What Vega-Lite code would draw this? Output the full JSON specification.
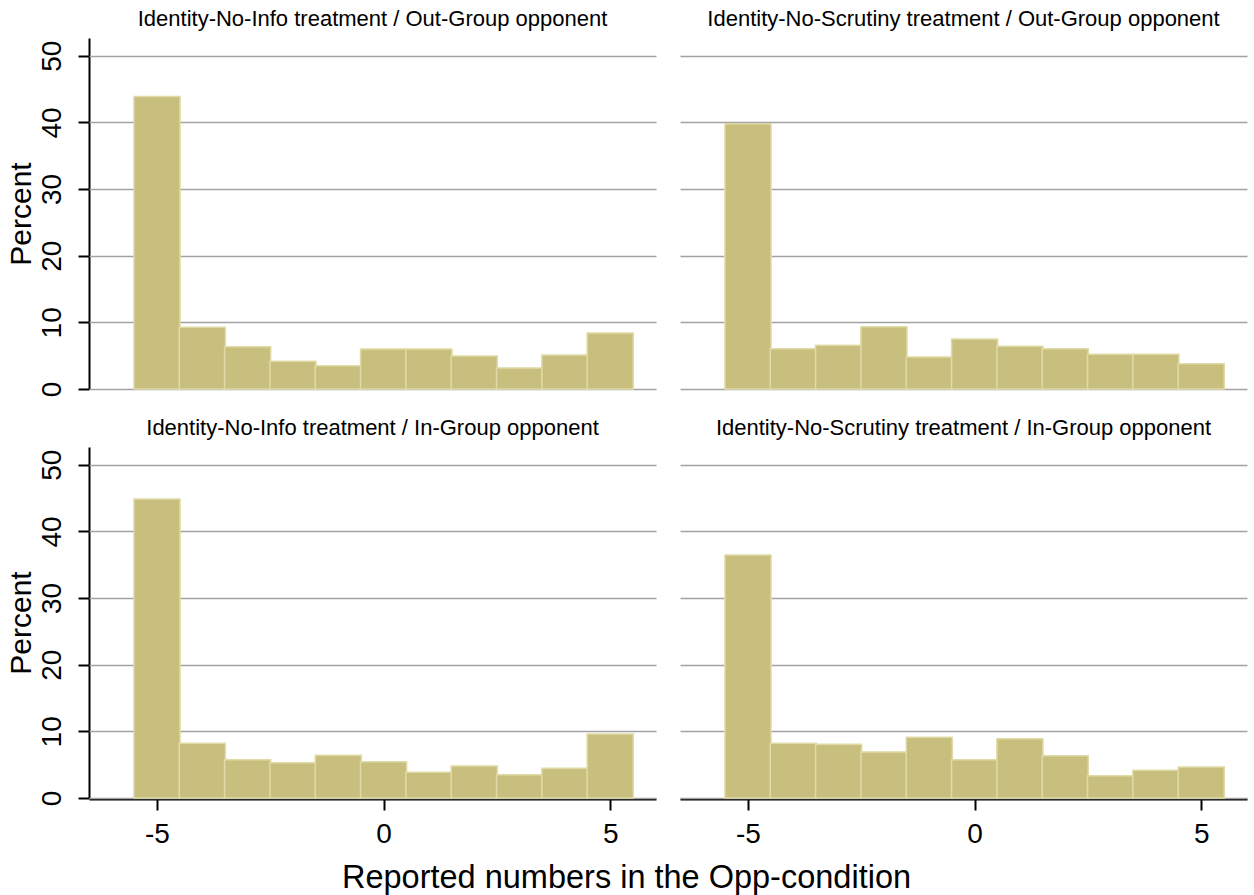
{
  "$schema": "https://vega.github.io/schema/vega-lite/v6.json",
  "background": "white",
  "padding": {"left": 6, "top": 8, "right": 5, "bottom": 5},
  "data": {"values": [
    {"panel": "Identity-No-Info treatment / Out-Group opponent", "value": -5, "pct": 43.9},
    {"panel": "Identity-No-Info treatment / Out-Group opponent", "value": -4, "pct": 9.25},
    {"panel": "Identity-No-Info treatment / Out-Group opponent", "value": -3, "pct": 6.35},
    {"panel": "Identity-No-Info treatment / Out-Group opponent", "value": -2, "pct": 4.15},
    {"panel": "Identity-No-Info treatment / Out-Group opponent", "value": -1, "pct": 3.5},
    {"panel": "Identity-No-Info treatment / Out-Group opponent", "value": 0, "pct": 6.0},
    {"panel": "Identity-No-Info treatment / Out-Group opponent", "value": 1, "pct": 6.0},
    {"panel": "Identity-No-Info treatment / Out-Group opponent", "value": 2, "pct": 4.95},
    {"panel": "Identity-No-Info treatment / Out-Group opponent", "value": 3, "pct": 3.15},
    {"panel": "Identity-No-Info treatment / Out-Group opponent", "value": 4, "pct": 5.1},
    {"panel": "Identity-No-Info treatment / Out-Group opponent", "value": 5, "pct": 8.4},
    {"panel": "Identity-No-Scrutiny treatment / Out-Group opponent", "value": -5, "pct": 39.8},
    {"panel": "Identity-No-Scrutiny treatment / Out-Group opponent", "value": -4, "pct": 6.05},
    {"panel": "Identity-No-Scrutiny treatment / Out-Group opponent", "value": -3, "pct": 6.55},
    {"panel": "Identity-No-Scrutiny treatment / Out-Group opponent", "value": -2, "pct": 9.35},
    {"panel": "Identity-No-Scrutiny treatment / Out-Group opponent", "value": -1, "pct": 4.8},
    {"panel": "Identity-No-Scrutiny treatment / Out-Group opponent", "value": 0, "pct": 7.5},
    {"panel": "Identity-No-Scrutiny treatment / Out-Group opponent", "value": 1, "pct": 6.4},
    {"panel": "Identity-No-Scrutiny treatment / Out-Group opponent", "value": 2, "pct": 6.05},
    {"panel": "Identity-No-Scrutiny treatment / Out-Group opponent", "value": 3, "pct": 5.2},
    {"panel": "Identity-No-Scrutiny treatment / Out-Group opponent", "value": 4, "pct": 5.2},
    {"panel": "Identity-No-Scrutiny treatment / Out-Group opponent", "value": 5, "pct": 3.8},
    {"panel": "Identity-No-Info treatment / In-Group opponent", "value": -5, "pct": 44.85},
    {"panel": "Identity-No-Info treatment / In-Group opponent", "value": -4, "pct": 8.2},
    {"panel": "Identity-No-Info treatment / In-Group opponent", "value": -3, "pct": 5.75},
    {"panel": "Identity-No-Info treatment / In-Group opponent", "value": -2, "pct": 5.3},
    {"panel": "Identity-No-Info treatment / In-Group opponent", "value": -1, "pct": 6.4},
    {"panel": "Identity-No-Info treatment / In-Group opponent", "value": 0, "pct": 5.45},
    {"panel": "Identity-No-Info treatment / In-Group opponent", "value": 1, "pct": 3.85},
    {"panel": "Identity-No-Info treatment / In-Group opponent", "value": 2, "pct": 4.8},
    {"panel": "Identity-No-Info treatment / In-Group opponent", "value": 3, "pct": 3.5},
    {"panel": "Identity-No-Info treatment / In-Group opponent", "value": 4, "pct": 4.45},
    {"panel": "Identity-No-Info treatment / In-Group opponent", "value": 5, "pct": 9.6},
    {"panel": "Identity-No-Scrutiny treatment / In-Group opponent", "value": -5, "pct": 36.45},
    {"panel": "Identity-No-Scrutiny treatment / In-Group opponent", "value": -4, "pct": 8.2},
    {"panel": "Identity-No-Scrutiny treatment / In-Group opponent", "value": -3, "pct": 8.05},
    {"panel": "Identity-No-Scrutiny treatment / In-Group opponent", "value": -2, "pct": 6.9},
    {"panel": "Identity-No-Scrutiny treatment / In-Group opponent", "value": -1, "pct": 9.1},
    {"panel": "Identity-No-Scrutiny treatment / In-Group opponent", "value": 0, "pct": 5.75},
    {"panel": "Identity-No-Scrutiny treatment / In-Group opponent", "value": 1, "pct": 8.9},
    {"panel": "Identity-No-Scrutiny treatment / In-Group opponent", "value": 2, "pct": 6.35},
    {"panel": "Identity-No-Scrutiny treatment / In-Group opponent", "value": 3, "pct": 3.35},
    {"panel": "Identity-No-Scrutiny treatment / In-Group opponent", "value": 4, "pct": 4.15},
    {"panel": "Identity-No-Scrutiny treatment / In-Group opponent", "value": 5, "pct": 4.65}
  ]},
  "facet": {
    "field": "panel",
    "type": "nominal",
    "sort": [
      "Identity-No-Info treatment / Out-Group opponent",
      "Identity-No-Scrutiny treatment / Out-Group opponent",
      "Identity-No-Info treatment / In-Group opponent",
      "Identity-No-Scrutiny treatment / In-Group opponent"
    ],
    "header": {
      "title": null,
      "labelFont": "Liberation Sans",
      "labelFontSize": 22,
      "labelColor": "black",
      "labelPadding": 7
    }
  },
  "columns": 2,
  "spacing": {"row": 27, "column": 24},
  "spec": {
    "width": 567,
    "height": 351,
    "mark": {"type": "bar", "width": 46.1, "fill": "#c8bf7e", "stroke": "#e0dba6", "strokeWidth": 1.5},
    "encoding": {
      "x": {
        "field": "value",
        "type": "quantitative",
        "scale": {"domain": [-6.39, 5.9], "nice": false, "zero": false},
        "axis": {
          "values": [-5, 0, 5],
          "labelExpr": "'' + datum.value",
          "title": null,
          "grid": false,
          "domainColor": "black",
          "domainWidth": 2,
          "tickColor": "black",
          "tickWidth": 2,
          "tickSize": 11,
          "labelFontSize": 28,
          "labelPadding": 10,
          "labelColor": "black",
          "labelFont": "Liberation Sans"
        }
      },
      "y": {
        "field": "pct",
        "type": "quantitative",
        "scale": {"domain": [0, 52.66], "nice": false},
        "axis": {
          "values": [0, 10, 20, 30, 40, 50],
          "title": "Percent",
          "titleFont": "Liberation Sans",
          "titleFontSize": 30,
          "titleFontWeight": "normal",
          "titleColor": "black",
          "titlePadding": 2,
          "labelAngle": -90,
          "labelAlign": "center",
          "labelBaseline": "bottom",
          "labelFontSize": 28,
          "labelPadding": 12,
          "labelColor": "black",
          "labelFont": "Liberation Sans",
          "domainColor": "black",
          "domainWidth": 2,
          "tickColor": "black",
          "tickWidth": 2,
          "tickSize": 11,
          "grid": true,
          "gridColor": "#a2a2a2",
          "gridWidth": 1.7
        }
      }
    }
  },
  "title": {
    "text": "Reported numbers in the Opp-condition",
    "orient": "bottom",
    "anchor": "middle",
    "font": "Liberation Sans",
    "fontSize": 32.5,
    "fontWeight": "normal",
    "color": "black",
    "offset": 14
  },
  "config": {
    "view": {"stroke": null},
    "font": "Liberation Sans"
  }
}
